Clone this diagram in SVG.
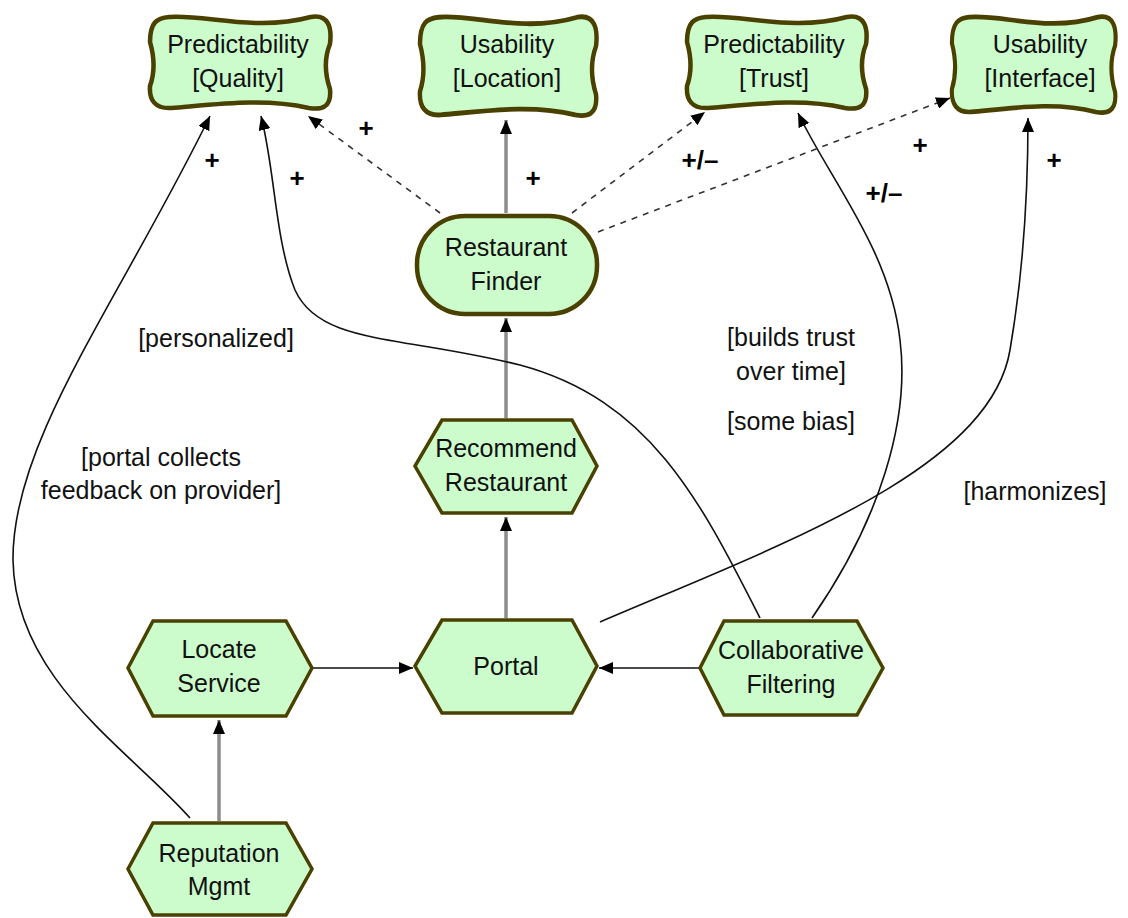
<svg xmlns="http://www.w3.org/2000/svg" width="1128" height="918" viewBox="0 0 1128 918">
<style>
.node{fill:#ccfccc;stroke:#4a4000;stroke-width:4.5;stroke-linejoin:round}
.hex{fill:#ccfccc;stroke:#4a4000;stroke-width:3.5;stroke-linejoin:miter}
.t{font-family:"Liberation Sans",Arial,sans-serif;font-size:25px;fill:#111;text-anchor:middle}
.pm{font-family:"Liberation Sans",Arial,sans-serif;font-size:26px;font-weight:bold;fill:#000;text-anchor:middle}
.c{fill:none;stroke:#111;stroke-width:1.6}
.g{fill:none;stroke:#8c8c8c;stroke-width:3.5}
.d{fill:none;stroke:#333;stroke-width:1.6;stroke-dasharray:6,6}
</style>
<defs>
<marker id="ah" markerWidth="16" markerHeight="12" refX="14" refY="6" orient="auto" markerUnits="userSpaceOnUse">
<path d="M0,0 L14,6 L0,12 Z" fill="#000"/>
</marker>
<path id="cloud" d="M20,3 C55,0 105,18 160,3 C178,0 181,14 179,30 C173,45 174,60 179,75 C181,94 170,96 158,94 C115,84 70,90 22,94 C6,95 0,86 1,72 C6,58 5,42 1,28 C1,8 8,4 20,3 Z"/>
</defs>

<g id="connectors">
<line class="g" x1="506" y1="213" x2="506" y2="120" marker-end="url(#ah)"/>
<line class="g" x1="506" y1="418" x2="506" y2="318" marker-end="url(#ah)"/>
<line class="g" x1="506" y1="618" x2="506" y2="517" marker-end="url(#ah)"/>
<line class="g" x1="219" y1="821" x2="219" y2="720" marker-end="url(#ah)"/>
<line class="c" x1="312" y1="668" x2="413" y2="668" marker-end="url(#ah)"/>
<line class="c" x1="700" y1="668" x2="599" y2="668" marker-end="url(#ah)"/>
<path class="c" d="M190,818 C130,750 15,680 13,560 C12,440 120,300 210,116" marker-end="url(#ah)"/>
<path class="c" d="M760,618 C700,500 650,400 520,365 C400,335 320,345 295,290 C275,240 275,170 261,116" marker-end="url(#ah)"/>
<path class="c" d="M812,618 C880,520 910,420 900,340 C890,250 830,180 798,113" marker-end="url(#ah)"/>
<path class="c" d="M600,622 C780,545 990,470 1010,350 C1022,280 1028,200 1028,118" marker-end="url(#ah)"/>
<line class="d" x1="440" y1="213" x2="308" y2="116" marker-end="url(#ah)"/>
<line class="d" x1="572" y1="213" x2="705" y2="112" marker-end="url(#ah)"/>
<line class="d" x1="598" y1="232" x2="950" y2="98" marker-end="url(#ah)"/>
<text class="pm" x="212" y="169">+</text>
<text class="pm" x="297" y="187">+</text>
<text class="pm" x="366" y="137">+</text>
<text class="pm" x="533" y="187">+</text>
<text class="pm" x="700" y="169">+/–</text>
<text class="pm" x="884" y="202">+/–</text>
<text class="pm" x="920" y="154">+</text>
<text class="pm" x="1054" y="169">+</text>
<text class="t" x="216" y="347">[personalized]</text>
<text class="t" x="161" y="466">[portal collects</text>
<text class="t" x="161" y="499">feedback on provider]</text>
<text class="t" x="791" y="346">[builds trust</text>
<text class="t" x="791" y="380">over time]</text>
<text class="t" x="791" y="430">[some bias]</text>
<text class="t" x="1035" y="500">[harmonizes]</text>
</g>

<g id="pred-quality">
<use href="#cloud" class="node" vector-effect="non-scaling-stroke" transform="translate(149,14) scale(1.011,1)"/>
<text class="t" x="238" y="53">Predictability</text>
<text class="t" x="238" y="87">[Quality]</text>
</g>
<g id="usability-location">
<use href="#cloud" class="node" transform="translate(419,14) scale(0.989,1.074)"/>
<text class="t" x="507" y="53">Usability</text>
<text class="t" x="507" y="87">[Location]</text>
</g>
<g id="pred-trust">
<use href="#cloud" class="node" transform="translate(686,14) scale(1.006,1)"/>
<text class="t" x="774" y="53">Predictability</text>
<text class="t" x="774" y="87">[Trust]</text>
</g>
<g id="usability-interface">
<use href="#cloud" class="node" transform="translate(951,14) scale(0.917,1.042)"/>
<text class="t" x="1040" y="53">Usability</text>
<text class="t" x="1040" y="87">[Interface]</text>
</g>

<g id="restaurant-finder">
<rect class="node" x="417" y="216" width="180" height="98" rx="48" ry="48"/>
<text class="t" x="506" y="256">Restaurant</text>
<text class="t" x="506" y="290">Finder</text>
</g>
<g id="recommend-restaurant">
<polygon class="hex" points="442,420 572,420 597,466 572,513 442,513 415,466"/>
<text class="t" x="506" y="457">Recommend</text>
<text class="t" x="506" y="491">Restaurant</text>
</g>
<g id="portal">
<polygon class="hex" points="442,620 572,620 597,666 572,713 442,713 415,666"/>
<text class="t" x="506" y="675">Portal</text>
</g>
<g id="locate-service">
<polygon class="hex" points="153,621 286,621 312,668 286,716 153,716 128,668"/>
<text class="t" x="219" y="658">Locate</text>
<text class="t" x="219" y="692">Service</text>
</g>
<g id="collaborative-filtering">
<polygon class="hex" points="724,621 857,621 883,668 857,715 724,715 700,668"/>
<text class="t" x="791" y="659">Collaborative</text>
<text class="t" x="791" y="693">Filtering</text>
</g>
<g id="reputation-mgmt">
<polygon class="hex" points="153,823 286,823 312,869 286,915 153,915 128,869"/>
<text class="t" x="219" y="862">Reputation</text>
<text class="t" x="219" y="895">Mgmt</text>
</g>
</svg>
